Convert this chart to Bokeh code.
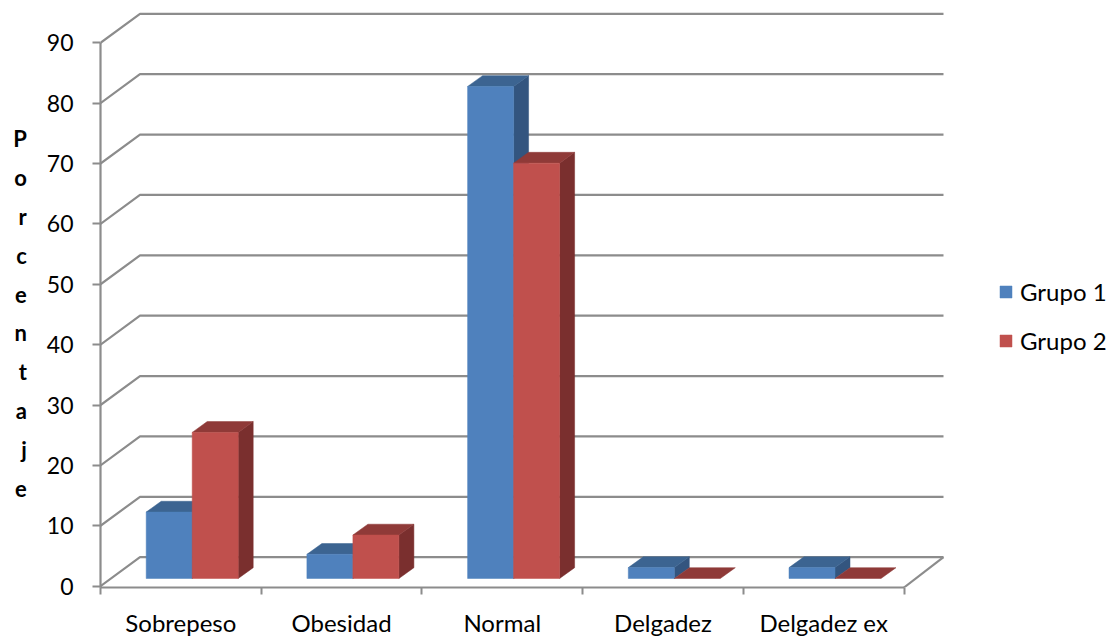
from bokeh.embed import file_html
from bokeh.models import ColumnDataSource, FixedTicker, Legend, LegendItem, Range1d
from bokeh.plotting import figure
from bokeh.resources import INLINE

# Chart contents
categories = ["Sobrepeso", "Obesidad", "Normal", "Delgadez", "Delgadez ex"]
grupo_1 = [11, 4, 81.5, 1.8, 1.8]
grupo_2 = [24.2, 7.2, 68.8, 0, 0]
series_names = ["Grupo 1", "Grupo 2"]
y_ticks = [0, 10, 20, 30, 40, 50, 60, 70, 80, 90]
axis_title = "Porcentaje"

# Scale of the plotting frame, in pixels per data unit
PX_X = 160.7
PX_Y = 6.03
FRAME_LEFT, FRAME_BOTTOM = 100, 586.3
WIDTH, HEIGHT = 1116, 639

# Oblique projection offsets, in data units
WALL_DX, WALL_DY = 39.5 / PX_X, 29 / PX_Y
BAR_DX, BAR_DY = 15 / PX_X, 10.8 / PX_Y
BAR_BASE = 7.7 / PX_Y
BAR_START = 45.7 / PX_X
BAR_W = 46 / PX_X

GREY = "#8c8c8c"
FONT = "Lato"
STYLES = [
    dict(front="#4f81bd", top="#3c6491", side="#33557f"),
    dict(front="#c0504d", top="#8f3a38", side="#7a2f2e"),
]

p = figure(
    width=WIDTH, height=HEIGHT, output_backend="svg", toolbar_location=None,
    x_range=Range1d(0, (WIDTH - FRAME_LEFT) / PX_X),
    y_range=Range1d(-(FRAME_BOTTOM - 585) / PX_Y, 585 / PX_Y),
    min_border_left=FRAME_LEFT, min_border_right=0, min_border_top=0,
    min_border_bottom=int(HEIGHT - FRAME_BOTTOM),
    outline_line_color=None,
)
p.grid.visible = False

# Wall and floor lines
n = len(categories)
wall_xs = [[0, WALL_DX, n + WALL_DX] for _ in y_ticks]
wall_ys = [[v, v + WALL_DY, v + WALL_DY] for v in y_ticks]
wall_xs.append([n, n + WALL_DX])
wall_ys.append([p.y_range.start, WALL_DY])
p.multi_line(wall_xs, wall_ys, line_color=GREY, line_width=2.2)

# Extruded bars: side, top, then front face for each series in each category
front_renderers = {}
for c in range(n):
    for s, values in enumerate([grupo_1, grupo_2]):
        v = values[c]
        x0 = c + BAR_START + s * BAR_W
        x1 = x0 + BAR_W
        y0 = BAR_BASE
        y1 = BAR_BASE + v
        st = STYLES[s]
        if v > 0:
            p.patch([x1, x1 + BAR_DX, x1 + BAR_DX, x1],
                    [y0, y0 + BAR_DY, y1 + BAR_DY, y1],
                    fill_color=st["side"], line_color=st["side"], line_width=0.5)
        p.patch([x0, x0 + BAR_DX, x1 + BAR_DX, x1],
                [y1, y1 + BAR_DY, y1 + BAR_DY, y1],
                fill_color=st["top"], line_color=st["top"], line_width=0.5)
        if v > 0:
            src = ColumnDataSource(dict(l=[x0], r=[x1], b=[y0], t=[y1]))
            front_renderers[s] = p.quad(left="l", right="r", bottom="b", top="t", source=src,
                                        fill_color=st["front"], line_color=st["front"],
                                        line_width=0.5)

# Axes
yax = p.yaxis[0]
yax.ticker = FixedTicker(ticks=y_ticks)
yax.bounds = (p.y_range.start, y_ticks[-1])
yax.axis_line_color = GREY
yax.axis_line_width = 2.2
yax.major_tick_line_color = GREY
yax.major_tick_line_width = 2
yax.major_tick_in = 0
yax.major_tick_out = 8
yax.minor_tick_line_color = None
yax.major_label_standoff = 19
yax.major_label_text_font = FONT
yax.major_label_text_font_size = "23px"
yax.major_label_text_color = "#000000"

# Vertical axis title, one upright letter per row; the empty first row lowers the block
yax.axis_label = "\n" + "\n".join(axis_title)
yax.axis_label_orientation = "horizontal"
yax.axis_label_standoff = 17
yax.axis_label_text_font = FONT
yax.axis_label_text_font_style = "bold"
yax.axis_label_text_font_size = "22px"
yax.axis_label_text_color = "#000000"
yax.axis_label_text_line_height = 1.44
yax.axis_label_text_align = "center"

xax = p.xaxis[0]
centers = [i + 0.5 for i in range(n)]
xax.ticker = FixedTicker(ticks=centers, minor_ticks=list(range(n + 1)))
xax.major_label_overrides = {c: name for c, name in zip(centers, categories)}
xax.bounds = (0, n)
xax.axis_line_color = GREY
xax.axis_line_width = 2.2
xax.major_tick_line_color = None
xax.major_tick_in = 0
xax.major_tick_out = 0
xax.minor_tick_line_color = GREY
xax.minor_tick_line_width = 2
xax.minor_tick_in = 0
xax.minor_tick_out = 7
xax.major_label_standoff = 13
xax.major_label_text_font = FONT
xax.major_label_text_font_size = "24px"
xax.major_label_text_color = "#000000"

# Legend
legend = Legend(
    items=[LegendItem(label=series_names[s], renderers=[front_renderers[s]]) for s in (0, 1)],
    location=(898, 232),
    glyph_width=15, glyph_height=15, spacing=19, padding=0, margin=10, label_standoff=7,
    label_text_font=FONT, label_text_font_size="24px", label_text_color="#000000",
    label_height=30, background_fill_alpha=0, border_line_color=None,
)
p.add_layout(legend)

open("out.html", "w").write(file_html(p, INLINE))
